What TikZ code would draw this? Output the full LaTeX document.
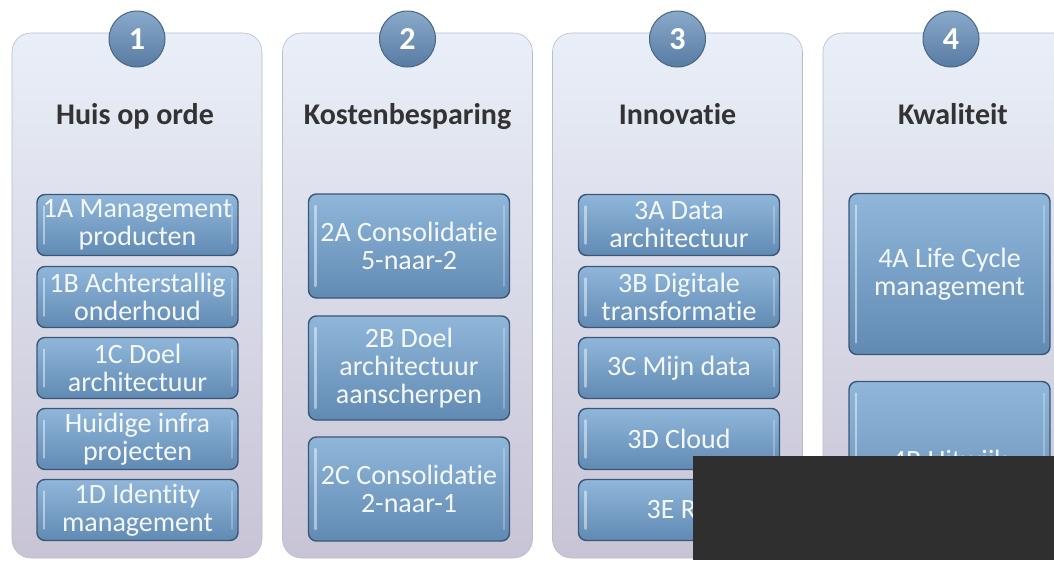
\documentclass[tikz,border=0pt]{standalone}
\usepackage{fontspec}
\setmainfont{Carlito}[Ligatures=NoCommon]
\definecolor{coltop}{HTML}{E9EFF8}
\definecolor{colbot}{HTML}{C8C4D6}
\definecolor{colline}{HTML}{B9BDC8}
\definecolor{boxtop}{HTML}{90B7DA}
\definecolor{boxbot}{HTML}{618AB3}
\definecolor{boxline}{HTML}{3A5776}
\definecolor{disctop}{HTML}{8AAACB}
\definecolor{discbot}{HTML}{587BA3}
\definecolor{discline}{HTML}{4A6684}
\definecolor{titletext}{HTML}{333333}
\definecolor{tasktext}{HTML}{F4F8FC}
\definecolor{coverfill}{HTML}{2F2F2F}
\begin{document}
\begin{tikzpicture}[x=1pt,y=-1pt,
  column/.style={rounded corners=19pt, top color=coltop, bottom color=colbot,
    draw=colline, line width=0.6pt, minimum width=250pt, minimum height=525pt,
    inner sep=0pt},
  disc/.style={circle, minimum size=56pt, inner sep=0pt, top color=disctop,
    bottom color=discbot, draw=discline, line width=1pt, text=white,
    font=\fontsize{32}{32}\selectfont\bfseries},
  heading/.style={anchor=base, text=titletext, font=\fontsize{30}{30}\selectfont\bfseries},
  task/.style={rounded corners=8pt, top color=boxtop, bottom color=boxbot,
    draw=boxline, line width=1.4pt, text=tasktext, align=center, inner sep=0pt,
    minimum width=201pt, font=\fontsize{28}{28}\selectfont,
    path picture={
      \draw[white, opacity=0.45, line width=2.5pt, line cap=round]
        ([xshift=7pt,yshift=-12pt]path picture bounding box.north west) --
        ([xshift=7pt,yshift=12pt]path picture bounding box.south west);
      \draw[white, opacity=0.25, line width=2pt, line cap=round]
        ([xshift=-6pt,yshift=-12pt]path picture bounding box.north east) --
        ([xshift=-6pt,yshift=12pt]path picture bounding box.south east);
    }},
  short/.style={task, minimum height=61pt},
  mid/.style={task, minimum height=104pt},
  tall/.style={task, minimum height=161pt}
]
\useasboundingbox (0,0) rectangle (1054,560);
\fill[white] (0,0) rectangle (1054,560);
\begin{scope}
\clip (0,0) rectangle (1054,560);

% column panels
\node[column] (col1) at (137,295.5) {};
\node[column] (col2) at (407.5,295.5) {};
\node[column] (col3) at (677.5,295.5) {};
\node[column, overlay] (col4) at (948,295.5) {};

% numbered discs
\node[disc] (n1) at (137,39) {1};
\node[disc] (n2) at (407.5,39) {2};
\node[disc] (n3) at (677.5,39) {3};
\node[disc] (n4) at (951,39) {4};

% column headings
\node[heading] (h1) at (135,124) {Huis op orde};
\node[heading] (h2) at (407.5,124) {Kostenbesparing};
\node[heading] (h3) at (677.5,124) {Innovatie};
\node[heading] (h4) at (953,124) {Kwaliteit};

% 1: Huis op orde
\node[short] (t1a) at (137.5,225) {1A Management\\producten};
\node[short] (t1b) at (137.5,297) {1B Achterstallig\\onderhoud};
\node[short] (t1c) at (137.5,368) {1C Doel\\architectuur};
\node[short] (t1x) at (137.5,439) {Huidige infra\\projecten};
\node[short] (t1d) at (137.5,510) {1D Identity\\management};

% 2: Kostenbesparing
\node[mid] (t2a) at (409,246) {2A Consolidatie\\5-naar-2};
\node[mid] (t2b) at (409,368) {2B Doel\\architectuur\\aanscherpen};
\node[mid] (t2c) at (409,489) {2C Consolidatie\\2-naar-1};

% 3: Innovatie
\node[short] (t3a) at (679,225) {3A Data\\architectuur};
\node[short] (t3b) at (679,297) {3B Digitale\\transformatie};
\node[short] (t3c) at (679,368) {3C Mijn data};
\node[short] (t3d) at (679,439) {3D Cloud};
\node[short] (t3e) at (679,510) {3E RB};

% 4: Kwaliteit
\node[tall] (t4a) at (949.5,274) {4A Life Cycle\\management};
\node[tall] (t4b) at (949.5,462) {4B Uitwijk};

% dark block over the lower right corner
\node[fill=coverfill, inner sep=0pt, minimum width=361pt, minimum height=104pt]
  (cover) at (873.5,508) {};
\end{scope}
\end{tikzpicture}
\end{document}
